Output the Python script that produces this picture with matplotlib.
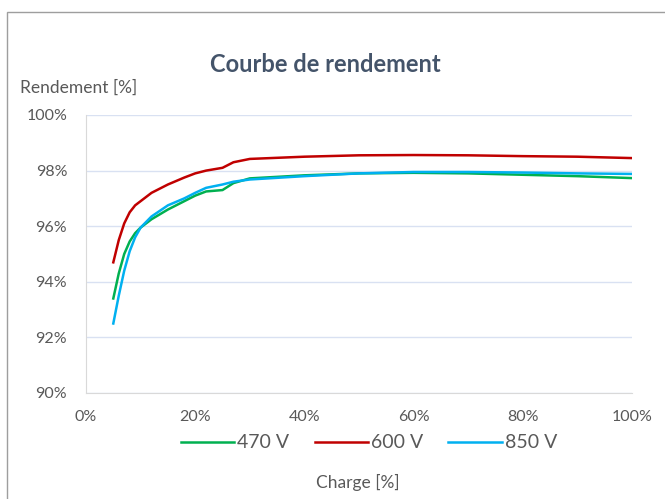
import matplotlib
matplotlib.use("Agg")
import matplotlib.pyplot as plt
from matplotlib.ticker import FuncFormatter, MultipleLocator
from matplotlib.patches import Rectangle

# Données
charge = [5, 6, 7, 8, 9, 10, 12, 15, 18, 20, 22, 25, 27, 30, 40, 50, 60, 70, 80, 90, 100]
r_470 = [93.4, 94.3, 95.0, 95.45, 95.75, 95.95, 96.25, 96.6, 96.9, 97.1, 97.25, 97.3,
         97.55, 97.72, 97.83, 97.9, 97.92, 97.9, 97.85, 97.8, 97.73]
r_600 = [94.7, 95.5, 96.1, 96.5, 96.75, 96.9, 97.2, 97.5, 97.75, 97.9, 98.0, 98.1,
         98.3, 98.42, 98.5, 98.55, 98.56, 98.55, 98.52, 98.5, 98.45]
r_850 = [92.5, 93.5, 94.4, 95.1, 95.6, 95.95, 96.35, 96.75, 97.0, 97.2, 97.38, 97.5,
         97.6, 97.68, 97.8, 97.9, 97.95, 97.95, 97.93, 97.9, 97.88]
series = ["470 V", "600 V", "850 V"]
couleurs = ["#00B050", "#C00000", "#00B0F0"]

plt.rcParams['font.family'] = ['Lato', 'DejaVu Sans']
txt = "#595959"

fig = plt.figure(figsize=(6.65, 4.99), dpi=100)
fig.patches.append(Rectangle((7 / 665, -0.1), 1.2, 1 - 12 / 499 + 0.1, transform=fig.transFigure,
                             fill=False, edgecolor="#9E9E9E", linewidth=1.0))

ax = fig.add_axes([86 / 665, 1 - 393 / 499, 546 / 665, 278 / 499])
for y, lab, c in zip([r_470, r_600, r_850], series, couleurs):
    ax.plot(charge, y, color=c, linewidth=1.8, label=lab)

ax.set_xlim(0, 100)
ax.set_ylim(90, 100)
ax.xaxis.set_major_locator(MultipleLocator(20))
ax.yaxis.set_major_locator(MultipleLocator(2))
ax.xaxis.set_major_formatter(FuncFormatter(lambda v, p: f"{v:.0f}%"))
ax.yaxis.set_major_formatter(FuncFormatter(lambda v, p: f"{v:.0f}%"))
ax.grid(axis="y", color="#D9E1F2", linewidth=1.0)
ax.set_axisbelow(True)
for s in ["top", "right"]:
    ax.spines[s].set_visible(False)
for s in ["left", "bottom"]:
    ax.spines[s].set_color("#D9D9D9")
ax.tick_params(length=0, labelsize=11.5, colors=txt)
ax.tick_params(axis="y", pad=13.5)
ax.tick_params(axis="x", pad=12)

fig.text(325 / 665, 1 - 65 / 499, "Courbe de rendement", ha="center", va="center",
         fontsize=17, fontweight="bold", color="#44546A")
fig.text(20 / 665, 1 - 88 / 499, "Rendement [%]", ha="left", va="center", fontsize=12.5, color=txt)
fig.text(358 / 665, 1 - 482 / 499, "Charge [%]", ha="center", va="center", fontsize=12.5, color=txt)

fig.legend(loc="center", bbox_to_anchor=(369 / 665, 1 - 443 / 499), ncol=3, frameon=False,
           fontsize=14, labelcolor=txt, handlelength=2.75, columnspacing=1.3, handletextpad=0.15,
           borderpad=0, borderaxespad=0)

fig.savefig("out.png", dpi=100)
